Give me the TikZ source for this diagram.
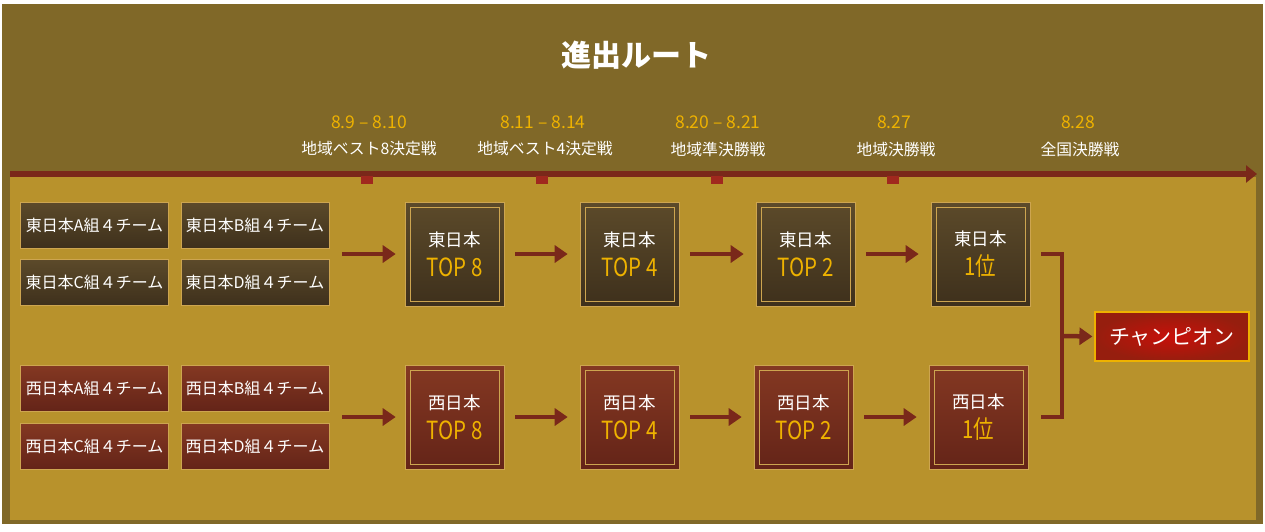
\documentclass[tikz,border=0pt]{standalone}
\usepackage{fontspec}
\setmainfont{Noto Sans CJK JP}
\newfontfamily\narrowjp[FakeStretch=0.82]{Noto Sans CJK JP}
\usepackage{tikz}
\usetikzlibrary{arrows.meta, positioning}
\usepackage{xcolor}
\definecolor{frameolive}{RGB}{128, 104, 40}
\definecolor{panelgold}{RGB}{184, 146, 44}
\definecolor{eastbrowntop}{RGB}{92, 74, 42}
\definecolor{eastbrownbot}{RGB}{62, 48, 28}
\definecolor{westredtop}{RGB}{132, 56, 34}
\definecolor{westredbot}{RGB}{100, 36, 24}
\definecolor{routered}{RGB}{122, 40, 26}
\definecolor{tickred}{RGB}{160, 40, 30}
\definecolor{dateyellow}{RGB}{238, 178, 0}
\definecolor{champred}{RGB}{200, 16, 10}
\definecolor{champdark}{RGB}{150, 30, 14}
\definecolor{edgegold}{RGB}{205, 165, 80}
\newcommand{\toptxt}[1]{{\narrowjp\color{dateyellow}\fontsize{25}{25}\selectfont #1}}

\begin{document}
\begin{tikzpicture}[x=1pt, y=-1pt,
  team/.style={minimum width=148pt, minimum height=46pt, inner sep=0pt,
    draw=edgegold, line width=0.6pt, text=white, font=\fontsize{16}{16}\selectfont},
  eastteam/.style={team, top color=eastbrowntop, bottom color=eastbrownbot},
  westteam/.style={team, top color=westredtop, bottom color=westredbot},
  stage/.style={minimum width=99pt, minimum height=104pt, inner sep=0pt,
    draw=edgegold, line width=0.6pt, align=center, text=white,
    font=\fontsize{17.5}{30}\selectfont,
    path picture={\draw[edgegold, line width=0.6pt]
      ([shift={(5pt,-5pt)}]path picture bounding box.north west) rectangle
      ([shift={(-5pt,5pt)}]path picture bounding box.south east);}},
  eaststage/.style={stage, top color=eastbrowntop, bottom color=eastbrownbot},
  weststage/.style={stage, top color=westredtop, bottom color=westredbot},
  flow/.style={routered, line width=4.5pt, -{Triangle[length=13pt, width=17pt]}},
  datetxt/.style={text=dateyellow, font=\fontsize{17.5}{17.5}\selectfont},
  roundtxt/.style={text=white, font=\fontsize{15.8}{15.8}\selectfont}]

  \useasboundingbox (0,0) rectangle (1265,531);

  % frame and panel
  \fill[white] (0,0) rectangle (1265,531);
  \fill[frameolive] (2,4) rectangle (1263,524);
  \fill[panelgold] (10,177) rectangle (1256,520);

  % title
  \node[text=white, font=\fontsize{30}{30}\selectfont\bfseries] (title) at (636,55) {進出ルート};

  % schedule
  \node[datetxt] (d1) at (369,122) {8.9 -- 8.10};
  \node[datetxt] (d2) at (543,122) {8.11 -- 8.14};
  \node[datetxt] (d3) at (718,122) {8.20 -- 8.21};
  \node[datetxt] (d4) at (894,122) {8.27};
  \node[datetxt] (d5) at (1078,122) {8.28};
  \node[roundtxt] (s1) at (369,149) {地域ベスト8決定戦};
  \node[roundtxt] (s2) at (545,149) {地域ベスト4決定戦};
  \node[roundtxt] (s3) at (718,149) {地域準決勝戦};
  \node[roundtxt] (s4) at (896,149) {地域決勝戦};
  \node[roundtxt] (s5) at (1080,149) {全国決勝戦};

  % time line
  \draw[routered, line width=6pt, -{Triangle[length=11pt, width=17pt]}] (10,174) -- (1257,174);
  \foreach \x in {367, 542, 717, 893}
    \fill[tickred] (\x-6,176) rectangle (\x+6,184);

  % group stage teams
  \node[eastteam] (eA) at (94.5,225) {東日本A組４チーム};
  \node[eastteam] (eB) at (255,225) {東日本B組４チーム};
  \node[eastteam] (eC) at (94.5,282.5) {東日本C組４チーム};
  \node[eastteam] (eD) at (255,282.5) {東日本D組４チーム};
  \node[westteam] (wA) at (94.5,388) {西日本A組４チーム};
  \node[westteam] (wB) at (255,388) {西日本B組４チーム};
  \node[westteam] (wC) at (94.5,446) {西日本C組４チーム};
  \node[westteam] (wD) at (255,446) {西日本D組４チーム};

  % knockout boxes
  \node[eaststage] (e8) at (454.5,254) {東日本\\\toptxt{TOP 8}};
  \node[eaststage] (e4) at (629.5,254) {東日本\\\toptxt{TOP 4}};
  \node[eaststage] (e2) at (805.5,254) {東日本\\\toptxt{TOP 2}};
  \node[eaststage] (e1) at (980.5,254) {東日本\\\toptxt{1位}};
  \node[weststage] (w8) at (454.5,417) {西日本\\\toptxt{TOP 8}};
  \node[weststage] (w4) at (629.5,417) {西日本\\\toptxt{TOP 4}};
  \node[weststage] (w2) at (803.5,417) {西日本\\\toptxt{TOP 2}};
  \node[weststage] (w1) at (978.5,417) {西日本\\\toptxt{1位}};

  % champion
  \node[minimum width=154pt, minimum height=49pt, inner sep=0pt,
    inner color=champred, outer color=champdark, draw=dateyellow, line width=1.2pt,
    text=white, font=\fontsize{21}{21}\selectfont] (champ) at (1172,336.5) {チャンピオン};

  % arrows
  \draw[flow, shorten <=13pt, shorten >=9pt] (eB.east |- e8.west) -- (e8.west);
  \draw[flow, shorten <=13pt, shorten >=9pt] (wD.east |- w8.west) -- (w8.west);
  \foreach \a/\b in {e8/e4, e4/e2, e2/e1, w8/w4, w4/w2, w2/w1}
    \draw[flow, shorten <=11pt, shorten >=12pt] (\a) -- (\b);

  % bracket to the final
  \coordinate (join) at (1062,336);
  \draw[routered, line width=4.5pt] ([xshift=11pt]e1.east) -| (join) |- ([xshift=13pt]w1.east);
  \draw[flow, shorten >=2pt] (join) -- (champ.west);

\end{tikzpicture}
\end{document}
